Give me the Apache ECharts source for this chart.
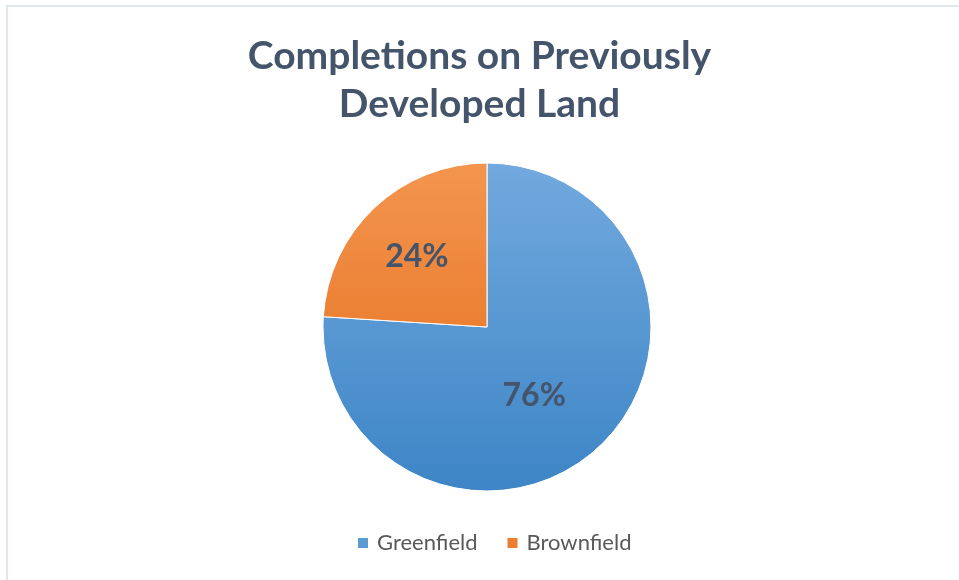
<!DOCTYPE html>
<html>
<head>
<meta charset="utf-8">
<script src="https://cdn.jsdelivr.net/npm/echarts@6/dist/echarts.min.js"></script>
<style>
html,body{margin:0;padding:0;background:#fff;}
#frame{position:absolute;left:6px;top:5px;right:0;bottom:0;border-left:2px solid #e1e6ed;border-top:2px solid #e1e6ed;}
#chart{position:absolute;left:0;top:0;width:959px;height:580px;}
</style>
</head>
<body>
<div id="frame"></div>
<div id="chart"></div>
<script>
const titleText = 'Completions on Previously\nDeveloped Land';
const categories = ['Greenfield', 'Brownfield'];
const values = [76, 24];

const cx = 487, cy = 327, R = 164;
const grads = [
  ['#72a9de', '#3d85c6'],
  ['#f4954f', '#e26b17']
];
const labelOffsets = [[-11, 7], [-12, -8]];
const legendColors = ['#5b9bd5', '#ed7d31'];

const chart = echarts.init(document.getElementById('chart'), null, {renderer: 'canvas'});
chart.setOption({
  backgroundColor: 'transparent',
  animation: false,
  title: {
    text: titleText,
    left: 'center',
    top: 27,
    textStyle: {
      fontFamily: 'Lato',
      fontWeight: 'bold',
      fontSize: 39,
      lineHeight: 48,
      color: '#44546a'
    }
  },
  legend: {
    bottom: 21,
    left: 351,
    itemWidth: 12,
    itemHeight: 12,
    itemGap: 28,
    icon: 'rect',
    data: categories.map((c, i) => ({name: c, itemStyle: {color: legendColors[i]}})),
    textStyle: {fontFamily: 'Lato', fontSize: 22, color: '#595959', padding: [0, 0, 0, 3]}
  },
  series: [{
    type: 'pie',
    center: [cx, cy],
    radius: [0, R],
    startAngle: 90,
    clockwise: true,
    label: {
      show: true,
      position: 'inside',
      formatter: p => p.value + '%',
      fontFamily: 'Lato',
      fontWeight: 'bold',
      fontSize: 32,
      color: '#44546a'
    },
    labelLine: {show: false},
    itemStyle: {borderColor: '#ffffff', borderWidth: 1},
    data: categories.map((c, i) => ({
      name: c,
      value: values[i],
      label: {offset: labelOffsets[i]},
      itemStyle: {
        color: {
          type: 'linear', global: true,
          x: 0, y: cy - R, x2: 0, y2: cy + R,
          colorStops: [{offset: 0, color: grads[i][0]}, {offset: 1, color: grads[i][1]}]
        }
      }
    }))
  }]
});
</script>
</body>
</html>
